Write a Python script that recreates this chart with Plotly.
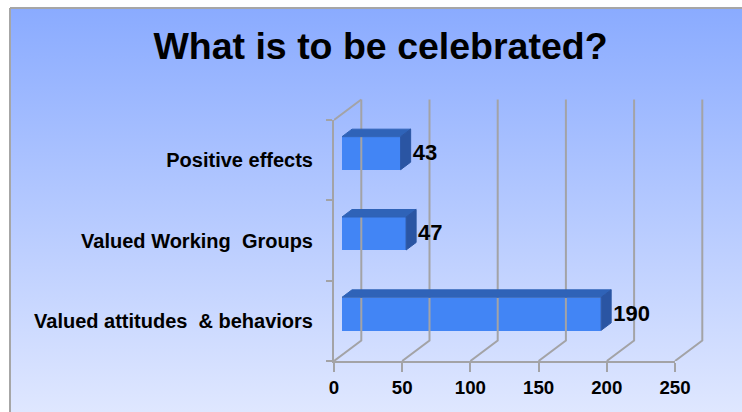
import plotly.graph_objects as go

categories = ["Valued attitudes  & behaviors", "Valued Working  Groups", "Positive effects"]
values = [190, 47, 43]
x_ticks = [0, 50, 100, 150, 200, 250]
title_text = "What is to be celebrated?"

W, H = 742, 412
X0, X250, Y0, Y3 = 334, 675, 361, 120
UX = (X250 - X0) / 250
UY = (Y0 - Y3) / 3
FONT = "Liberation Sans, Arial, sans-serif"
GRID = "#a3a3a6"

# oblique offsets of the pseudo-3D box, in data units
wall_dx, wall_dy = 27.3 / UX, 20.5 / UY
bar_base = 8 / UX
bar_dx, bar_dy = 10 / UX, 7.5 / UY
bar_w = 33 / UY
bar_shift = 7 / UY
label_gap = 2 / UX
# marks live on a larger invisible axis pair so the oblique wall is not culled
X_MAX, Y_MAX = 290, 3.5

fig = go.Figure()

# background panel (first subplot -> drawn underneath)
fig.add_trace(go.Scatter(
    x=[10, 760, 760, 10, 10], y=[8, 8, 430, 430, 8], mode="lines", fill="toself",
    line=dict(color="#a6a6a6", width=2),
    fillgradient=dict(type="vertical", start=8, stop=412,
                      colorscale=[[0, "#8aabff"], [1, "#dfe7ff"]]),
    xaxis="x", yaxis="y", hoverinfo="skip", showlegend=False))


def line(xs, ys):
    fig.add_trace(go.Scatter(x=xs, y=ys, mode="lines", line=dict(color=GRID, width=2),
                             xaxis="x2", yaxis="y2", cliponaxis=False,
                             hoverinfo="skip", showlegend=False))


# back-wall gridlines with their floor diagonals
for v in x_ticks:
    line([v, v + wall_dx, v + wall_dx], [0, wall_dy, 3 + wall_dy])
line([0, wall_dx], [3, 3 + wall_dy])

# bars
for i, v in enumerate(values):
    c = i + 0.5 + bar_shift
    b, t = c - bar_w / 2, c + bar_w / 2
    end = bar_base + v
    fig.add_trace(go.Scatter(
        x=[bar_base, bar_base + bar_dx, end + bar_dx, end, bar_base],
        y=[t, t + bar_dy, t + bar_dy, t, t], mode="lines", fill="toself",
        fillcolor="#2f63b8", line=dict(color="#2f63b8", width=1),
        xaxis="x2", yaxis="y2", cliponaxis=False, hoverinfo="skip", showlegend=False))
    fig.add_trace(go.Scatter(
        x=[end, end + bar_dx, end + bar_dx, end, end],
        y=[b, b + bar_dy, t + bar_dy, t, b], mode="lines", fill="toself",
        fillcolor="#2a55a3", line=dict(color="#2a55a3", width=1),
        xaxis="x2", yaxis="y2", cliponaxis=False, hoverinfo="skip", showlegend=False))

fig.add_trace(go.Bar(
    x=values, y=[i + 0.5 + bar_shift for i in range(len(values))], base=bar_base,
    width=bar_w, orientation="h", marker=dict(color="#4285f5", line=dict(width=0)),
    xaxis="x2", yaxis="y2", cliponaxis=False, hoverinfo="skip", showlegend=False))

fig.add_trace(go.Scatter(
    x=[bar_base + v + bar_dx + label_gap for v in values],
    y=[i + 0.5 + bar_shift - 1.5 / UY for i in range(len(values))],
    text=[str(v) for v in values], mode="text", textposition="middle right",
    textfont=dict(family=FONT, size=22, color="#000000", weight="bold"),
    xaxis="x2", yaxis="y2", cliponaxis=False,
    hoverinfo="skip", showlegend=False))

# keeps the visible axis pair alive
fig.add_trace(go.Scatter(x=[0], y=[0], mode="none", xaxis="x3", yaxis="y3",
                         hoverinfo="skip", showlegend=False))

fig.update_layout(
    width=W, height=H, autosize=False,
    margin=dict(l=0, r=0, t=0, b=0, autoexpand=False),
    paper_bgcolor="#ffffff", plot_bgcolor="rgba(0,0,0,0)", showlegend=False, bargap=0,
    xaxis=dict(domain=[0, 1], range=[0, W], visible=False, fixedrange=True),
    yaxis=dict(domain=[0, 1], range=[H, 0], visible=False, fixedrange=True),
    xaxis2=dict(domain=[X0 / W, (X0 + X_MAX * UX) / W], range=[0, X_MAX], anchor="y2", visible=False),
    yaxis2=dict(domain=[(H - Y0) / H, (H - Y0 + Y_MAX * UY) / H], range=[0, Y_MAX], anchor="x2", visible=False),
    xaxis3=dict(domain=[X0 / W, X250 / W], range=[0, 250], anchor="y3",
                tickvals=x_ticks, ticktext=[str(t) for t in x_ticks],
                ticks="outside", ticklen=9, tickwidth=2, tickcolor=GRID,
                showline=True, linecolor=GRID, linewidth=2, showgrid=False, zeroline=False,
                tickfont=dict(family=FONT, size=18.7, color="#000000", weight="bold")),
    yaxis3=dict(domain=[(H - Y0) / H, (H - Y3) / H], range=[0, 3], anchor="x3",
                tickvals=[0.5, 1.5, 2.5], ticktext=categories,
                ticks="", ticklabelstandoff=15,
                minor=dict(tickvals=[0, 1, 2, 3], ticks="outside", ticklen=6,
                           tickwidth=2, tickcolor=GRID),
                showline=True, linecolor=GRID, linewidth=2, showgrid=False, zeroline=False,
                tickfont=dict(family=FONT, size=20, color="#000000", weight="bold")),
    title=dict(text=title_text, x=380.5 / W, xanchor="center",
               y=1 - 46 / H, yanchor="middle",
               font=dict(family=FONT, size=37.5, color="#000000", weight="bold")),
)

fig.write_html("out.html", config=dict(displayModeBar=False),
               post_script="document.body.style.margin='0';document.documentElement.style.overflow='hidden';")
